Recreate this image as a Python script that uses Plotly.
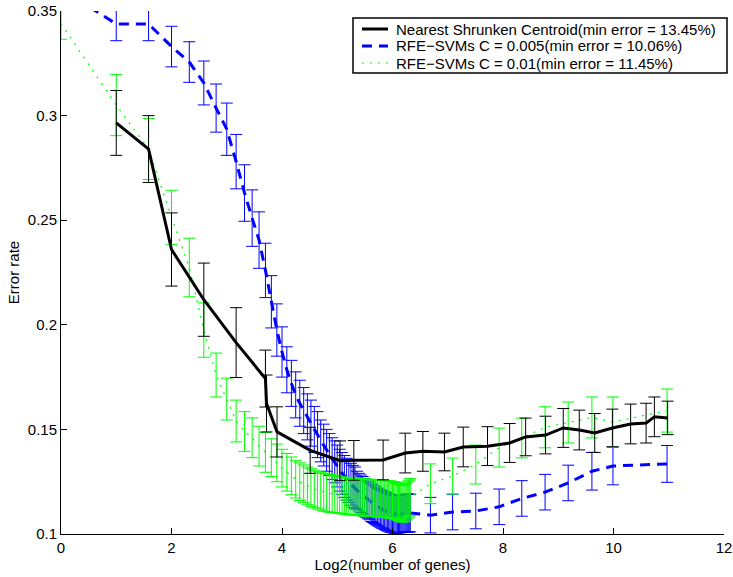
import numpy as np
import plotly.graph_objects as go

# ---------------- data ----------------
nsc_x = [1.0, 1.585, 2.0, 2.585, 3.17, 3.70, 3.72, 3.91, 4.51, 5.05, 5.30, 5.83, 6.23, 6.55,
         6.94, 7.28, 7.72, 8.12, 8.41, 8.77, 9.09, 9.38, 9.66, 9.98, 10.31, 10.59, 10.74, 10.98]
nsc_err_rate = [0.2965, 0.2840, 0.2360, 0.2120, 0.1915, 0.1743, 0.1624, 0.1488, 0.1400, 0.1350,
                0.1352, 0.1354, 0.1387, 0.1395, 0.1392, 0.1416, 0.1420, 0.1435, 0.1464, 0.1473,
                0.1507, 0.1497, 0.1483, 0.1507, 0.1526, 0.1530, 0.1560, 0.1555]
nsc_sd = [0.0155, 0.0160, 0.0175, 0.0175, 0.0167, 0.0136, 0.0136, 0.0120, 0.0110, 0.0095,
          0.0095, 0.0095, 0.0095, 0.0095, 0.0090, 0.0095, 0.0093, 0.0093, 0.0090, 0.0090,
          0.0093, 0.0095, 0.0093, 0.0090, 0.0095, 0.0095, 0.0095, 0.0080]

svm_genes = [1, 2, 3, 4, 5, 6, 7, 8, 9, 10, 11, 12, 13, 14, 15, 16, 17, 18, 19, 20,
             21, 22, 23, 24, 25, 26, 27, 28, 29, 30, 31, 32, 33, 34, 35, 36, 37, 38, 39, 40,
             41, 42, 43, 44, 45, 46, 47, 48, 49, 50, 51, 52, 53, 54, 55, 56, 57, 58, 59, 60,
             61, 62, 63, 64, 65, 66, 67, 68, 69, 70, 71, 72, 73, 74, 75, 76, 77, 78, 79, 80,
             103, 136, 182, 244, 324, 434, 580, 781, 1017, 2005]

svm005_err_rate = [0.3605, 0.3438, 0.3438, 0.3330, 0.3256, 0.3156, 0.3036, 0.2935, 0.2780, 0.2630,
                   0.2510, 0.2405, 0.2260, 0.2110, 0.1975, 0.1870, 0.1785, 0.1720, 0.1665, 0.1625,
                   0.1590, 0.1560, 0.1530, 0.1500, 0.1475, 0.1445, 0.1425, 0.1400, 0.1380, 0.1360,
                   0.1345, 0.1325, 0.1305, 0.1290, 0.1275, 0.1262, 0.1250, 0.1238, 0.1228, 0.1220,
                   0.1210, 0.1200, 0.1192, 0.1185, 0.1176, 0.1170, 0.1163, 0.1158, 0.1150, 0.1145,
                   0.1140, 0.1135, 0.1130, 0.1127, 0.1122, 0.1118, 0.1115, 0.1112, 0.1108, 0.1105,
                   0.1103, 0.1100, 0.1098, 0.1097, 0.1095, 0.1094, 0.1094, 0.1095, 0.1095, 0.1096,
                   0.1097, 0.1098, 0.1098, 0.1099, 0.1100, 0.1100, 0.1101, 0.1100, 0.1100, 0.1100,
                   0.1090, 0.1105, 0.1110, 0.1130, 0.1170, 0.1200, 0.1244, 0.1300, 0.1325, 0.1335]
svm005_sd = [0.0080, 0.0080, 0.0080, 0.0097, 0.0097, 0.0105, 0.0115, 0.0125, 0.0130, 0.0135,
             0.0135, 0.0135, 0.0130, 0.0125, 0.0125, 0.0120, 0.0110, 0.0110, 0.0110, 0.0110,
             0.0110, 0.0110, 0.0110, 0.0110, 0.0110, 0.0100, 0.0100, 0.0100, 0.0100, 0.0100,
             0.0100, 0.0100, 0.0100, 0.0100, 0.0100, 0.0100, 0.0100, 0.0100, 0.0100, 0.0100,
             0.0090, 0.0090, 0.0090, 0.0090, 0.0090, 0.0090, 0.0090, 0.0090, 0.0090, 0.0090,
             0.0090, 0.0090, 0.0090, 0.0090, 0.0090, 0.0090, 0.0090, 0.0090, 0.0090, 0.0090,
             0.0090, 0.0090, 0.0090, 0.0090, 0.0090, 0.0090, 0.0090, 0.0090, 0.0090, 0.0090,
             0.0090, 0.0090, 0.0090, 0.0090, 0.0090, 0.0090, 0.0090, 0.0090, 0.0090, 0.0090,
             0.0085, 0.0085, 0.0085, 0.0085, 0.0085, 0.0085, 0.0085, 0.0090, 0.0090, 0.0088]

svm01_err_rate = [0.3440, 0.3050, 0.2840, 0.2513, 0.2274, 0.1975, 0.1760, 0.1645, 0.1540, 0.1490,
                  0.1460, 0.1420, 0.1390, 0.1365, 0.1340, 0.1315, 0.1295, 0.1278, 0.1262, 0.1250,
                  0.1240, 0.1230, 0.1222, 0.1215, 0.1210, 0.1205, 0.1200, 0.1197, 0.1194, 0.1192,
                  0.1190, 0.1188, 0.1186, 0.1185, 0.1183, 0.1182, 0.1180, 0.1180, 0.1179, 0.1178,
                  0.1177, 0.1176, 0.1176, 0.1175, 0.1175, 0.1174, 0.1174, 0.1173, 0.1173, 0.1172,
                  0.1172, 0.1171, 0.1170, 0.1170, 0.1169, 0.1168, 0.1168, 0.1167, 0.1167, 0.1166,
                  0.1165, 0.1165, 0.1164, 0.1163, 0.1162, 0.1160, 0.1158, 0.1155, 0.1152, 0.1150,
                  0.1148, 0.1146, 0.1145, 0.1147, 0.1150, 0.1155, 0.1160, 0.1165, 0.1170, 0.1177,
                  0.1240, 0.1277, 0.1332, 0.1413, 0.1459, 0.1510, 0.1533, 0.1557, 0.1535, 0.1590]
svm01_sd = [0.0075, 0.0146, 0.0146, 0.0130, 0.0140, 0.0130, 0.0105, 0.0100, 0.0100, 0.0095,
            0.0095, 0.0095, 0.0095, 0.0090, 0.0090, 0.0090, 0.0090, 0.0090, 0.0090, 0.0090,
            0.0090, 0.0090, 0.0090, 0.0090, 0.0090, 0.0090, 0.0090, 0.0090, 0.0090, 0.0090,
            0.0088, 0.0088, 0.0088, 0.0088, 0.0088, 0.0088, 0.0088, 0.0088, 0.0088, 0.0088,
            0.0088, 0.0088, 0.0088, 0.0088, 0.0088, 0.0088, 0.0088, 0.0088, 0.0088, 0.0088,
            0.0088, 0.0088, 0.0088, 0.0088, 0.0088, 0.0088, 0.0088, 0.0088, 0.0088, 0.0088,
            0.0088, 0.0088, 0.0088, 0.0088, 0.0088, 0.0088, 0.0088, 0.0088, 0.0088, 0.0088,
            0.0088, 0.0088, 0.0088, 0.0088, 0.0088, 0.0088, 0.0088, 0.0088, 0.0088, 0.0088,
            0.0095, 0.0086, 0.0093, 0.0093, 0.0095, 0.0098, 0.0098, 0.0098, 0.0120, 0.0103]

names = ["Nearest Shrunken Centroid(min error = 13.45%)",
         "RFE\u2212SVMs C = 0.005(min error = 10.06%)",
         "RFE\u2212SVMs C = 0.01(min error = 11.45%)"]

x_ticks = [0, 2, 4, 6, 8, 10, 12]
y_ticks = [0.1, 0.15, 0.2, 0.25, 0.3, 0.35]

svm_x = np.log2(svm_genes)

W, H = 733, 577
ML, MR, MT, MB = 61, 9, 11, 43
PW, PH = W - ML - MR, H - MT - MB
FS = 15

styles = [dict(color="#000000", width=3, dash="solid"),
          dict(color="#0000FF", width=3, dash="10px,7px"),
          dict(color="#00FF00", width=1.2, dash="2px,6px")]

fig = go.Figure()

fig.add_trace(go.Scatter(
    x=svm_x, y=svm005_err_rate, mode="lines", name=names[1], showlegend=False,
    line=styles[1],
    error_y=dict(type="data", array=svm005_sd, visible=True, color="#0000FF",
                 thickness=1, width=6),
))
fig.add_trace(go.Scatter(
    x=svm_x, y=svm01_err_rate, mode="lines", name=names[2], showlegend=False,
    line=styles[2],
    error_y=dict(type="data", array=svm01_sd, visible=True, color="#00FF00",
                 thickness=1, width=6),
))
fig.add_trace(go.Scatter(
    x=nsc_x, y=nsc_err_rate, mode="lines", name=names[0], showlegend=False,
    line=styles[0],
    error_y=dict(type="data", array=nsc_sd, visible=True, color="#000000",
                 thickness=1, width=6),
))


def px2paper_x(px):
    return (px - ML) / PW


def px2paper_y(py):
    return (H - MB - py) / PH


# legend box drawn manually (MATLAB-like compact legend)
shapes = [dict(type="rect", xref="paper", yref="paper",
               x0=px2paper_x(353), x1=px2paper_x(727),
               y0=px2paper_y(73), y1=px2paper_y(18),
               line=dict(color="black", width=1.5), fillcolor="white", layer="above")]
annotations = []
row_y = [29, 46, 63]
for name, st, ry in zip(names, styles, row_y):
    shapes.append(dict(type="line", xref="paper", yref="paper",
                       x0=px2paper_x(362), x1=px2paper_x(388),
                       y0=px2paper_y(ry), y1=px2paper_y(ry),
                       line=dict(color=st["color"], width=st["width"], dash=st["dash"]),
                       layer="above"))
    annotations.append(dict(xref="paper", yref="paper", x=px2paper_x(394), y=px2paper_y(ry),
                            xanchor="left", yanchor="middle", text=name, showarrow=False,
                            font=dict(size=FS, color="black")))

axis_common = dict(showgrid=False, zeroline=False, showline=True, linecolor="black",
                   linewidth=1, ticks="inside", ticklen=6, tickcolor="black",
                   tickfont=dict(size=FS, color="black"), mirror=False, automargin=False)

fig.update_layout(
    width=W, height=H,
    margin=dict(l=ML, r=MR, t=MT, b=MB),
    paper_bgcolor="white", plot_bgcolor="white",
    font=dict(family="Liberation Sans, Arial, Helvetica, sans-serif", size=FS, color="black"),
    xaxis=dict(range=[0, 12], tickvals=x_ticks, ticktext=[str(v) for v in x_ticks],
               title=dict(text="Log2(number of genes)", font=dict(size=FS), standoff=2),
               **axis_common),
    yaxis=dict(range=[0.1, 0.35], tickvals=y_ticks, ticktext=[f"{v:g}" for v in y_ticks],
               title=dict(text="Error rate", font=dict(size=FS), standoff=4),
               **axis_common),
    shapes=shapes,
    annotations=annotations,
    showlegend=False,
)

fig.write_html("out.html", config={"displayModeBar": False},
               post_script="document.body.style.margin='0';document.body.style.padding='0';")
